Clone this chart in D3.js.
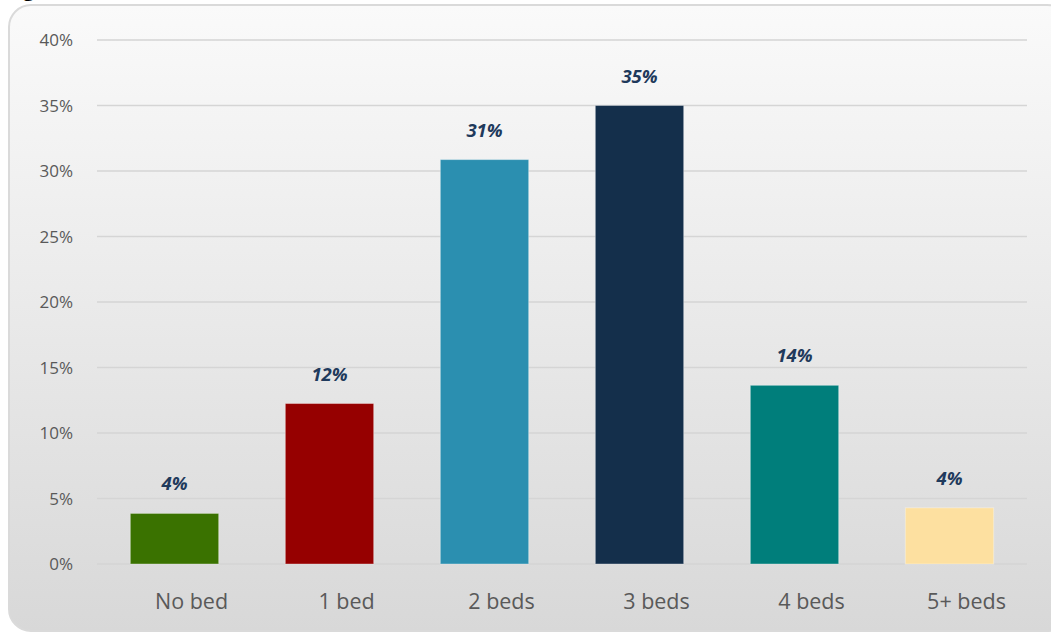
<!DOCTYPE html>
<html>
<head>
<meta charset="utf-8">
<script src="https://cdn.jsdelivr.net/npm/d3@7"></script>
<style>
  html, body { margin: 0; padding: 0; background: #ffffff; }
  svg { display: block; }
</style>
</head>
<body>
<svg id="chart" width="1051" height="634"></svg>
<script>
// Share of homes by number of bedrooms
const categories = ["No bed", "1 bed", "2 beds", "3 beds", "4 beds", "5+ beds"];
const shares = [0.0386, 0.1225, 0.3087, 0.35, 0.1364, 0.0429];
const barColors = ["#3a7200", "#960000", "#2b8fb0", "#142f4b", "#007e7b", "#fde0a0"];
const tickValues = [0, 0.05, 0.10, 0.15, 0.20, 0.25, 0.30, 0.35, 0.40];

const W = 1051, H = 634;
const plot = { left: 97, right: 1027, top: 40, bottom: 564 };

const svg = d3.select("#chart");

// Panel background: soft vertical gradient inside a rounded frame
const defs = svg.append("defs");
const grad = defs.append("linearGradient")
  .attr("id", "panelFill").attr("x1", 0).attr("y1", 0).attr("x2", 0).attr("y2", 1);
grad.append("stop").attr("offset", "0%").attr("stop-color", "#fafafa");
grad.append("stop").attr("offset", "45%").attr("stop-color", "#ebebeb");
grad.append("stop").attr("offset", "100%").attr("stop-color", "#d8d8d8");

svg.append("rect")
  .attr("x", 9).attr("y", 5).attr("width", 1060).attr("height", 626)
  .attr("rx", 22).attr("ry", 22)
  .attr("fill", "url(#panelFill)")
  .attr("stroke", "#dadada").attr("stroke-width", 2);

// Descender of the heading line above the panel
svg.append("text")
  .attr("x", 23).attr("y", -4)
  .attr("font-family", "Liberation Serif, serif")
  .attr("font-weight", "bold").attr("font-size", 22)
  .attr("fill", "#000").text("g");

const x = d3.scaleBand()
  .domain(categories)
  .range([plot.left, plot.right])
  .paddingInner(0.43)
  .paddingOuter(0.215);

const y = d3.scaleLinear()
  .domain([0, 0.40])
  .range([plot.bottom, plot.top]);

// Horizontal gridlines
const yAxis = d3.axisLeft(y)
  .tickValues(tickValues)
  .tickFormat(d3.format(".0%"))
  .tickSize(0)
  .tickPadding(0);

const grid = svg.append("g").attr("class", "grid");
grid.selectAll("line")
  .data(tickValues)
  .join("line")
  .attr("x1", plot.left).attr("x2", plot.right)
  .attr("y1", d => y(d)).attr("y2", d => y(d))
  .attr("stroke", "#d5d5d5")
  .attr("stroke-width", 1.3);

// Y axis labels
const yG = svg.append("g")
  .attr("transform", `translate(73,0)`)
  .call(yAxis);
yG.select(".domain").remove();
yG.selectAll("text")
  .attr("font-family", "Open Sans, sans-serif")
  .attr("font-size", 17)
  .attr("fill", "#595959")
  .attr("dy", "0.35em");

// Bars
svg.append("g").selectAll("rect")
  .data(categories)
  .join("rect")
  .attr("x", d => x(d))
  .attr("width", x.bandwidth())
  .attr("y", (d, i) => y(shares[i]))
  .attr("height", (d, i) => y(0) - y(shares[i]))
  .attr("fill", (d, i) => barColors[i])
  .attr("stroke", "rgba(255,255,255,0.35)")
  .attr("stroke-width", 1);

// Value labels
svg.append("g").selectAll("text")
  .data(categories)
  .join("text")
  .attr("x", d => x(d) + x.bandwidth() / 2)
  .attr("y", (d, i) => y(shares[i]) - 23)
  .attr("text-anchor", "middle")
  .attr("font-family", "Open Sans, sans-serif")
  .attr("font-weight", "bold")
  .attr("font-style", "italic")
  .attr("font-size", 18.5)
  .attr("fill", "#1f3a5c")
  .text((d, i) => d3.format(".0%")(shares[i]));

// X axis labels, set slightly right of the bar centres
const xAxis = d3.axisBottom(x).tickSize(0).tickPadding(0);
const xG = svg.append("g")
  .attr("transform", `translate(17,${plot.bottom + 45})`)
  .call(xAxis);
xG.select(".domain").remove();
xG.selectAll("text")
  .attr("font-family", "Open Sans, sans-serif")
  .attr("font-size", 21.5)
  .attr("fill", "#595959")
  .attr("dy", 0);
</script>
</body>
</html>
